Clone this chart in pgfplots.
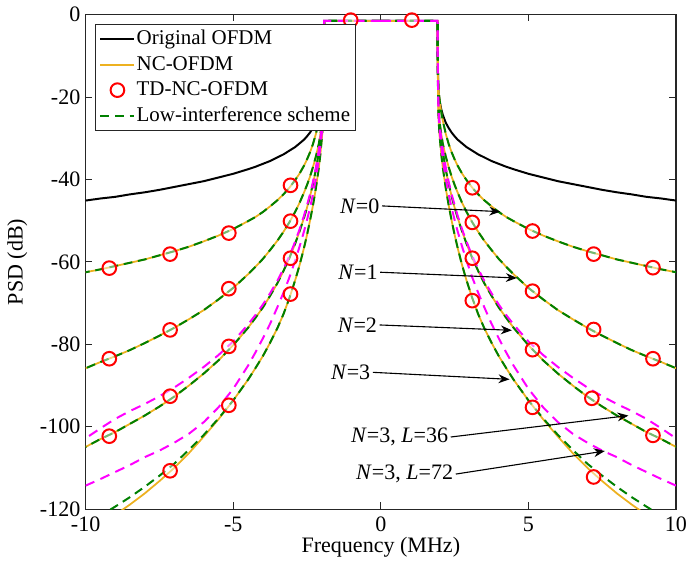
\documentclass[border=0pt]{standalone}
\usepackage{fontspec}
\setmainfont{Liberation Serif}
\usepackage{pgfplots}
\pgfplotsset{compat=1.18}
\usepackage{pgfplotstable}
\usetikzlibrary{arrows.meta}

\definecolor{ncorange}{rgb}{0.929,0.694,0.125}
\definecolor{ligreen}{rgb}{0,0.5,0}
\definecolor{mlmag}{rgb}{1,0,1}
\definecolor{axgray}{rgb}{0.15,0.15,0.15}

% one half of the spectrum (f >= 0), mirrored for f < 0
\pgfplotstableread{
f     blk    n0     n1     n2     n3      g3      a36     b72
0     -1.5   -1.5   -1.5   -1.5   -1.5    -1.5    -1.5    -1.5
1.92  -1.5   -1.5   -1.5   -1.5   -1.5    -1.5    -1.5    -1.5
1.93  -12    -12    -12    -12    -14     -14     -12     -13
1.95  -18.1  -18.0  -21.0  -21.5  -24.0   -24.0   -21.5   -23.0
1.98  -20.2  -20.0  -25.0  -25.8  -28.5   -28.5   -25.6   -27.3
2.0   -21.2  -21.2  -26.5  -27.4  -30.1   -30.1   -27.2   -28.8
2.05  -23.0  -23.7  -29.1  -30.6  -34.0   -34.0   -30.0   -32.0
2.1   -24.3  -25.7  -31.3  -33.3  -37.1   -37.1   -32.8   -35.2
2.2   -26.2  -28.9  -34.4  -37.6  -42.1   -42.1   -37.1   -39.8
2.3   -27.5  -31.4  -37.0  -41.1  -46.3   -46.3   -40.6   -43.6
2.4   -28.6  -33.4  -39.3  -44.1  -50.0   -50.0   -43.6   -46.9
2.5   -29.5  -35.1  -41.3  -46.8  -53.4   -53.4   -46.2   -49.8
2.6   -30.3  -36.6  -43.1  -49.2  -56.5   -56.5   -48.7   -52.5
2.75  -31.2  -38.5  -45.6  -52.5  -60.7   -60.7   -52.0   -56.2
2.9   -32.1  -40.1  -47.8  -55.5  -64.4   -64.4   -55.0   -59.6
3.1   -33.0  -42.0  -50.4  -59.1  -68.8   -68.8   -58.6   -63.8
3.3   -33.9  -43.6  -52.7  -62.2  -72.7   -72.7   -61.7   -67.5
3.5   -34.6  -45.0  -54.8  -65.1  -76.0   -76.0   -64.5   -70.9
3.75  -35.5  -46.5  -57.1  -68.2  -79.6   -79.6   -67.6   -75.0
4.0   -36.2  -47.9  -59.3  -71.1  -82.9   -82.9   -70.4   -78.6
4.25  -36.9  -49.1  -61.2  -73.6  -85.8   -85.8   -72.9   -82.0
4.5   -37.5  -50.1  -63.0  -76.0  -88.6   -88.6   -75.2   -85.2
5.0   -38.6  -52.0  -66.3  -80.2  -93.6   -93.6   -79.3   -90.8
5.5   -39.5  -53.6  -69.1  -83.9  -98.2   -98.0   -82.6   -95.3
6.0   -40.4  -55.0  -71.7  -87.1  -102.4  -102.0  -85.5   -98.9
6.5   -41.1  -56.3  -73.9  -90.0  -106.4  -105.6  -88.1   -101.7
7.0   -41.8  -57.4  -76.0  -92.7  -110.0  -109.0  -90.5   -103.9
7.5   -42.5  -58.4  -77.9  -95.1  -113.2  -111.9  -92.6   -105.8
8.0   -43.1  -59.4  -79.7  -97.3  -116.2  -114.6  -94.5   -107.4
8.5   -43.6  -60.2  -81.4  -99.3  -118.9  -117.1  -96.2   -109.3
9.0   -44.2  -61.0  -82.9  -101.3 -121.4  -119.4  -98.1   -111.0
9.5   -44.6  -61.8  -84.3  -103.0 -123.9  -121.6  -100.4  -112.7
10    -45.1  -62.5  -85.8  -104.9 -126.3  -123.7  -102.8  -114.3
}\psd

\tikzset{
  blk/.style={black, line width=0.9pt},
  nc/.style={ncorange, line width=0.8pt},
  li/.style={ligreen, line width=0.9pt, dash pattern=on 4pt off 2.6pt},
  mg/.style={mlmag, line width=0.9pt, dash pattern=on 4.5pt off 3pt},
  note/.style={font=\rmfamily\fontsize{10}{12}\selectfont, inner sep=1pt, anchor=east},
  arr/.style={-{Stealth[length=5pt,width=4pt]}, line width=0.5pt},
}

\begin{document}
\begin{tikzpicture}
\begin{axis}[
  scale only axis,
  width=9.41cm, height=7.88cm,
  xmin=-10, xmax=10, ymin=-120, ymax=0,
  clip bounding box=upper bound,
  xtick={-10,-5,0,5,10},
  ytick={-120,-100,-80,-60,-40,-20,0},
  tick align=inside,
  major tick length=3pt,
  axis line style={axgray, line width=0.5pt},
  tick style={axgray, line width=0.5pt},
  tick label style={font=\rmfamily\fontsize{10}{12}\selectfont},
  xticklabel style={inner xsep=0pt},
  yticklabel style={inner xsep=2.2pt},
  /pgf/number format/assume math mode=true,
  xlabel={Frequency (MHz)},
  ylabel={PSD (dB)},
  label style={font=\rmfamily\fontsize{10}{12}\selectfont},
  xlabel style={yshift=4.5pt},
  legend image code/.code={
    \draw[mark repeat=2, mark phase=2, #1]
      plot coordinates {(0cm,0cm) (0.27cm,0cm) (0.54cm,0cm)};},
  legend style={at={(0.015,0.981)}, anchor=north west, draw=axgray,
    fill=white, line width=0.5pt, font=\rmfamily\fontsize{9.5}{11}\selectfont,
    row sep=-0.3pt, inner xsep=2pt, inner ysep=0.5pt,
    nodes={inner xsep=0.6pt}},
  legend cell align=left,
]
\addlegendimage{blk}
\addlegendentry{Original OFDM}
\addlegendimage{nc}
\addlegendentry{NC-OFDM}
\addlegendimage{only marks, mark=o, mark size=3.1pt, red, line width=0.9pt}
\addlegendentry{TD-NC-OFDM}
\addlegendimage{li}
\addlegendentry{Low-interference scheme}

% original OFDM
\addplot[blk, forget plot] table[x=f, y=blk] {\psd};
\addplot[blk, forget plot] table[x expr=-\thisrow{f}, y=blk] {\psd};

% NC-OFDM, N = 0..3
\addplot[nc, forget plot] table[x=f, y=n0] {\psd};
\addplot[nc, forget plot] table[x expr=-\thisrow{f}, y=n0] {\psd};
\addplot[nc, forget plot] table[x=f, y=n1] {\psd};
\addplot[nc, forget plot] table[x expr=-\thisrow{f}, y=n1] {\psd};
\addplot[nc, forget plot] table[x=f, y=n2] {\psd};
\addplot[nc, forget plot] table[x expr=-\thisrow{f}, y=n2] {\psd};
\addplot[nc, forget plot] table[x=f, y=n3] {\psd};
\addplot[nc, forget plot] table[x expr=-\thisrow{f}, y=n3] {\psd};

% low-interference scheme
\addplot[li, forget plot] table[x=f, y=n0] {\psd};
\addplot[li, forget plot] table[x expr=-\thisrow{f}, y=n0] {\psd};
\addplot[li, forget plot] table[x=f, y=n1] {\psd};
\addplot[li, forget plot] table[x expr=-\thisrow{f}, y=n1] {\psd};
\addplot[li, forget plot] table[x=f, y=n2] {\psd};
\addplot[li, forget plot] table[x expr=-\thisrow{f}, y=n2] {\psd};
\addplot[li, forget plot] table[x=f, y=g3] {\psd};
\addplot[li, forget plot] table[x expr=-\thisrow{f}, y=g3] {\psd};

% N=3 with L=36 and L=72
\addplot[mg, forget plot] table[x=f, y=a36] {\psd};
\addplot[mg, forget plot] table[x expr=-\thisrow{f}, y=a36] {\psd};
\addplot[mg, forget plot] table[x=f, y=b72] {\psd};
\addplot[mg, forget plot] table[x expr=-\thisrow{f}, y=b72] {\psd};

% TD-NC-OFDM
\addplot[only marks, mark=*, mark size=3.1pt, forget plot,
  mark options={draw=red, fill=white, fill opacity=0.45, line width=0.9pt}]
coordinates {
  (-9.2,-61.5) (-7.14,-58.1) (-5.15,-53.0) (-3.06,-41.4)
  (-9.2,-83.5) (-7.14,-76.5) (-5.15,-66.5) (-3.06,-50.1)
  (-9.2,-102.3) (-7.14,-92.6) (-5.15,-80.5) (-3.06,-59.1)
  (-7.14,-110.7) (-5.15,-94.8) (-3.06,-67.8)
  (-1.02,-1.3) (1.05,-1.3)
  (3.1,-42.0) (5.14,-52.5) (7.21,-58.1) (9.22,-61.4)
  (3.1,-50.4) (5.14,-67.1) (7.21,-76.4) (9.22,-83.5)
  (3.1,-59.1) (5.14,-81.3) (7.15,-93.1) (9.22,-102.1)
  (3.1,-69.4) (5.14,-95.3) (7.21,-112.2)
};

% annotations
\draw[arr] (0.04,-46.4) -- (4.05,-47.8);
\node[note] at (0.04,-46.4) {\textit{N}=0};
\draw[arr] (-0.02,-62.5) -- (4.61,-63.9);
\node[note] at (-0.02,-62.5) {\textit{N}=1};
\draw[arr] (-0.04,-75.3) -- (4.44,-76.6);
\node[note] at (-0.04,-75.3) {\textit{N}=2};
\draw[arr] (-0.27,-86.8) -- (4.36,-88.5);
\node[note] at (-0.27,-86.8) {\textit{N}=3};
\draw[arr] (2.37,-102.5) -- (8.39,-97.3);
\node[note] at (2.37,-102.5) {\textit{N}=3, \textit{L}=36};
\draw[arr] (2.54,-111.5) -- (7.59,-105.9);
\node[note] at (2.54,-111.5) {\textit{N}=3, \textit{L}=72};
\end{axis}
\end{tikzpicture}
\end{document}
